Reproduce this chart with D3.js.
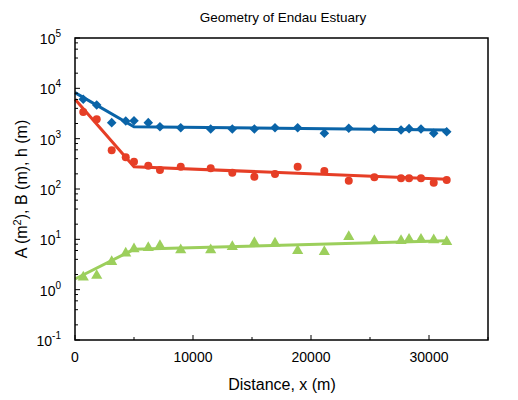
<!DOCTYPE html>
<html><head><meta charset="utf-8">
<script src="https://cdn.jsdelivr.net/npm/d3@7"></script>
<style>body{margin:0;background:#fff;} svg{display:block;font-family:"Liberation Sans",Arial,sans-serif;}</style>
</head><body><svg id="c" width="518" height="400"></svg>
<script>
// Observed data
const distA = [700,1840,3110,4300,5000,6210,7200,8960,11500,13330,15200,16950,18870,21130,23200,25370,27630,28310,29320,30400,31500];
const areaA = [6050,4670,2080,2245,2275,2080,1730,1650,1556,1556,1556,1650,1650,1280,1607,1556,1487,1580,1556,1280,1376];
const widthB = [3390,2427,587,427,349,290,239,277,258,211,176,199,277,228,146,171,163,163,163,133,151];
const depthH = [1.76,1.90,3.60,5.28,6.43,6.82,7.48,6.14,6.14,7.14,8.57,8.37,5.94,5.67,11.3,9.4,9.4,10.0,10.0,9.7,8.98];
// Fitted piecewise lines
const fitX = [0,5000,31500];
const fitA = [8200,1730,1490];
const fitB = [6060,277,156];
const fitH = [1.63,6.34,9.4];
const xTicks = [0,10000,20000,30000];
const yTicks = [0.1,1,10,100,1000,10000,100000];

const svg = d3.select("#c");
const L=75,R=488,T=38,B=340;
const x = d3.scaleLinear().domain([0,35000]).range([L,R]);
const y = d3.scaleLog().domain([0.1,100000]).range([B,T]);

const cBlue="#0a64a8", cRed="#e63e26", cGreen="#9ccf5c";

// title
svg.append("text").attr("x",283).attr("y",22).attr("text-anchor","middle").attr("font-size",13.5).text("Geometry of Endau Estuary");

const g = svg.append("g");
const line = d3.line().x(d=>x(d[0])).y(d=>y(d[1]));
[[fitA,cBlue],[fitB,cRed],[fitH,cGreen]].forEach(([vals,col])=>{
  g.append("path").datum(fitX.map((v,i)=>[v,vals[i]])).attr("d",line)
   .attr("fill","none").attr("stroke",col).attr("stroke-width",3);
});
g.selectAll(".a").data(distA).enter().append("path")
  .attr("d",d3.symbol().type(d3.symbolSquare).size(46)())
  .attr("transform",(d,i)=>`translate(${x(d)},${y(areaA[i])}) rotate(45)`).attr("fill",cBlue);
g.selectAll(".b").data(distA).enter().append("circle")
  .attr("cx",d=>x(d)).attr("cy",(d,i)=>y(widthB[i])).attr("r",4).attr("fill",cRed);
g.selectAll(".h").data(distA).enter().append("path")
  .attr("d",d3.symbol().type(d3.symbolTriangle).size(54)())
  .attr("transform",(d,i)=>`translate(${x(d)},${y(depthH[i])})`).attr("fill",cGreen);

// frame
svg.append("rect").attr("x",L).attr("y",T).attr("width",R-L).attr("height",B-T)
  .attr("fill","none").attr("stroke","#000").attr("stroke-width",1.5);

// x ticks
const xa = svg.append("g");
d3.range(0,35001,5000).forEach(v=>{
  const major = v%10000===0;
  xa.append("line").attr("x1",x(v)).attr("x2",x(v)).attr("y1",B).attr("y2",B-(major?5:3)).attr("stroke","#000").attr("stroke-width",1);
});
xTicks.forEach(v=>{
  xa.append("text").attr("x",x(v)).attr("y",362).attr("text-anchor","middle").attr("font-size",14).text(v);
});
svg.append("text").attr("x",282).attr("y",390).attr("text-anchor","middle").attr("font-size",16).text("Distance, x (m)");

// y ticks
const ya = svg.append("g");
yTicks.forEach((v,i)=>{
  ya.append("line").attr("x1",L).attr("x2",L+5).attr("y1",y(v)).attr("y2",y(v)).attr("stroke","#000");
  if(i<yTicks.length-1){
    [2,4,6,8].forEach(m=>{
      ya.append("line").attr("x1",L).attr("x2",L+3).attr("y1",y(v*m)).attr("y2",y(v*m)).attr("stroke","#000");
    });
  }
  const e = Math.round(Math.log10(v));
  const t = ya.append("text").attr("x",61).attr("y",y(v)+6).attr("text-anchor","end").attr("font-size",14);
  t.append("tspan").text("10");
  t.append("tspan").attr("dy",-7).attr("font-size",10).text(e);
});
const yt = svg.append("text").attr("transform","translate(27,189) rotate(-90)").attr("text-anchor","middle").attr("font-size",16);
yt.append("tspan").text("A (m");
yt.append("tspan").attr("dy",-6).attr("font-size",11).text("2");
yt.append("tspan").attr("dy",6).text("), B (m), h (m)");
</script></body></html>
